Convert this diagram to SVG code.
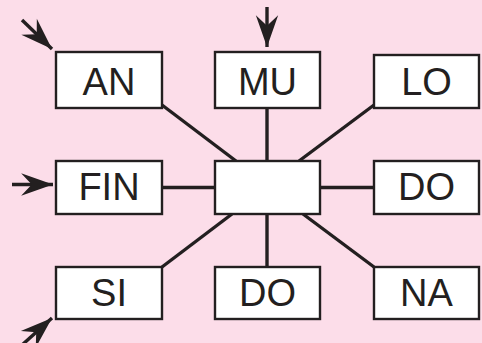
<svg xmlns="http://www.w3.org/2000/svg" width="482" height="343" viewBox="0 0 482 343">
<style>
.box{fill:#fff;stroke:#231f20;stroke-width:2.4}
.lbl{font-family:"Liberation Sans",Arial,sans-serif;font-size:38px;fill:#231f20;text-anchor:middle}
.ln{stroke:#231f20;stroke-width:3.4;fill:none}
</style>
<defs>
<marker id="ah" markerUnits="userSpaceOnUse" markerWidth="34" markerHeight="24" viewBox="-31 -11 32 22" refX="0" refY="0" orient="auto">
<path d="M0,0 L-30,-10.5 L-20,0 L-30,10.5 Z" fill="#231f20"/>
</marker>
</defs>
<rect width="482" height="343" fill="#fcdde9"/>
<g id="connectors">
<line class="ln" x1="162" y1="105" x2="236" y2="161"/>
<line class="ln" x1="267" y1="108" x2="267" y2="161"/>
<line class="ln" x1="374" y1="105" x2="299" y2="161"/>
<line class="ln" x1="162" y1="187.5" x2="215" y2="187.5"/>
<line class="ln" x1="320" y1="187.5" x2="374" y2="187.5"/>
<line class="ln" x1="232" y1="214" x2="162" y2="267"/>
<line class="ln" x1="267" y1="214" x2="267" y2="267"/>
<line class="ln" x1="303" y1="214" x2="374" y2="267"/>
<line class="ln" x1="22" y1="20" x2="52" y2="49" marker-end="url(#ah)"/>
<line class="ln" x1="267" y1="7" x2="267" y2="47" marker-end="url(#ah)"/>
<line class="ln" x1="12" y1="184.5" x2="53" y2="184.5" marker-end="url(#ah)"/>
<line class="ln" x1="22" y1="345" x2="52" y2="318" marker-end="url(#ah)"/>
</g>
<g id="AN"><rect class="box" x="56" y="52" width="106" height="56"/><text class="lbl" x="109" y="95">AN</text></g>
<g id="MU"><rect class="box" x="215" y="52" width="105" height="56"/><text class="lbl" x="267.5" y="95">MU</text></g>
<g id="LO"><rect class="box" x="374" y="55" width="105" height="53"/><text class="lbl" x="426.5" y="95">LO</text></g>
<g id="FIN"><rect class="box" x="56" y="161" width="106" height="53"/><text class="lbl" x="109" y="200">FIN</text></g>
<g id="center"><rect class="box" x="215" y="161" width="105" height="53"/></g>
<g id="DO1"><rect class="box" x="374" y="161" width="105" height="53"/><text class="lbl" x="426.5" y="200">DO</text></g>
<g id="SI"><rect class="box" x="56" y="267" width="106" height="52"/><text class="lbl" x="109" y="306">SI</text></g>
<g id="DO2"><rect class="box" x="215" y="267" width="105" height="52"/><text class="lbl" x="267.5" y="306">DO</text></g>
<g id="NA"><rect class="box" x="374" y="267" width="105" height="52"/><text class="lbl" x="426.5" y="306">NA</text></g>
</svg>
